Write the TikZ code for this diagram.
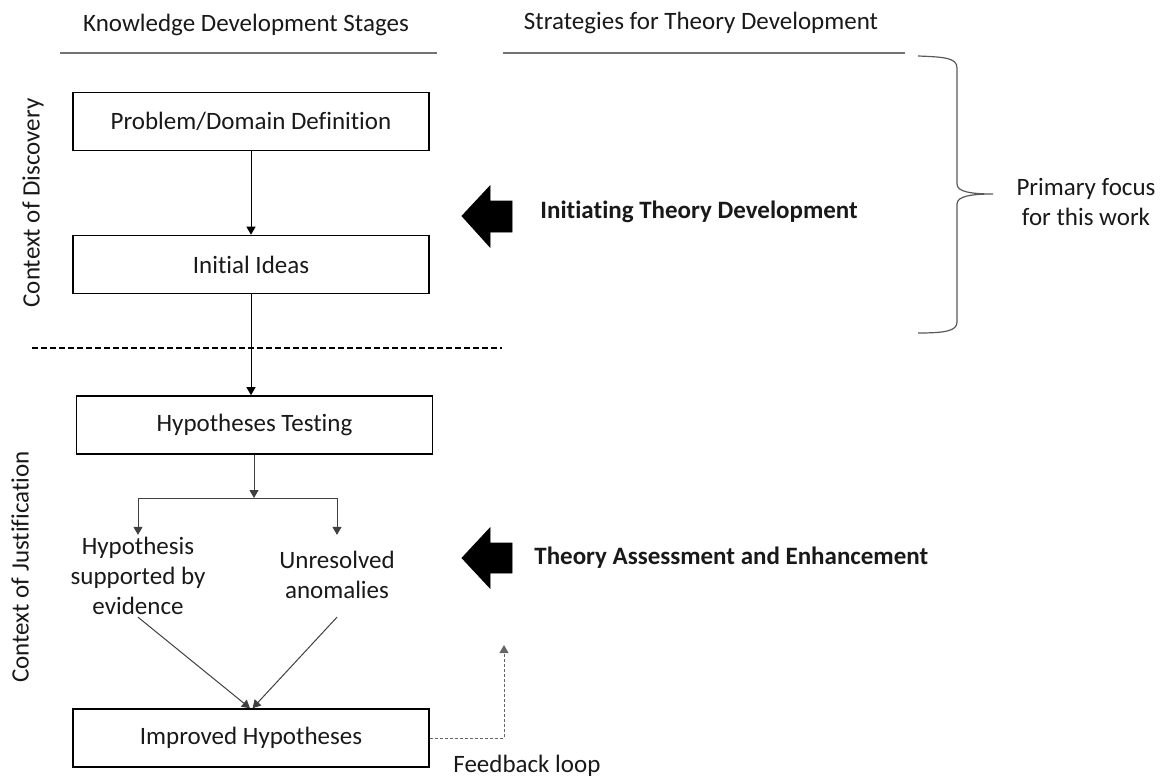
\documentclass[tikz,border=0pt]{standalone}
\usepackage{fontspec}
\setmainfont{Carlito}[Ligatures=NoCommon]
\usetikzlibrary{arrows.meta}
\begin{document}
\begin{tikzpicture}[x=0.5pt,y=-0.5pt,
  every node/.style={font=\fontsize{12.5pt}{15pt}\selectfont, text=black!90},
  stagebox/.style={draw=black, line width=0.8pt, minimum width=178pt, minimum height=29pt, inner sep=0pt},
  lbl/.style={align=center, inner sep=1pt},
  hdrline/.style={draw=black!55, line width=0.6pt},
  conn/.style={draw=black, line width=0.5pt, -{Triangle[length=4pt,width=4.5pt]}},
  gconn/.style={draw=black!75, line width=0.5pt},
  bigarrow/.style={fill=black, draw=black},
  fbline/.style={draw=black!60, line width=0.5pt, dash pattern=on 1.5pt off 1pt},
  sep/.style={draw=black, line width=1pt, dash pattern=on 3pt off 1.5pt}
]
\useasboundingbox (0,0) rectangle (1162,776);

% headers
\node (h1) at (246,25) {Knowledge Development Stages};
\node (h2) at (701,23) {Strategies for Theory Development};
\draw[hdrline] (60,53) -- (437,53);
\draw[hdrline] (503,53) -- (905,53);

% side labels
\node[rotate=90] (cd) at (33,203) {Context of Discovery};
\node[rotate=90] (cj) at (20,567) {Context of Justification};

% boxes
\node[stagebox] (b1) at (251,121.5) {Problem/Domain Definition};
\node[stagebox] (b2) at (251,264.5) {Initial Ideas};
\node[stagebox] (b3) at (254.5,425) {Hypotheses Testing};
\node[stagebox] (b4) at (251,738) {Improved Hypotheses};

\draw[conn] (b1.south) -- (b2.north);
\draw[conn] (b2.south) -- (b2.south |- b3.north);

% separator
\draw[sep] (32,348) -- (502,348);

% branch
\coordinate (br) at (254,498);
\coordinate (brL) at (138,498);
\coordinate (brR) at (337,498);
\node[lbl] (hs) at (138,576) {Hypothesis\\supported by\\evidence};
\node[lbl] (un) at (337,575) {Unresolved\\anomalies};

\draw[gconn, -{Triangle[length=4pt,width=4.5pt]}] (b3.south -| br) -- (br);
\draw[gconn] (brL) -- (brR);
\draw[gconn, -{Triangle[length=4pt,width=4.5pt]}] (brL) -- (brL |- hs.north);
\draw[gconn, -{Triangle[length=4pt,width=4.5pt]}] (brR) -- (brR |- hs.north);
\draw[gconn, -{Triangle[length=4pt,width=4.5pt]}] (hs.south) -- ([xshift=-0.5pt]b4.north);
\draw[gconn, -{Triangle[length=4pt,width=4.5pt]}] (hs.south -| un) -- ([xshift=0.8pt]b4.north);

% feedback loop
\coordinate (fbTop) at (504,645);
\draw[fbline, -{Triangle[length=4pt,width=4.5pt]}] (b4.east) -| (fbTop);
\node[anchor=base west, inner sep=0pt] (fbl) at (453,772) {Feedback loop};

% block arrows
\path[bigarrow] (462,216) -- (490,186) -- (490,201) -- (512,201) -- (512,232) -- (490,232) -- (490,247) -- cycle;
\path[bigarrow] (462,558) -- (490,528) -- (490,543) -- (512,543) -- (512,573) -- (490,573) -- (490,588) -- cycle;
\node[anchor=west, inner sep=0pt, font=\fontsize{12.5pt}{15pt}\selectfont\bfseries] (s1) at (540,212) {Initiating Theory Development};
\node[anchor=west, inner sep=0pt, font=\fontsize{12.5pt}{15pt}\selectfont\bfseries] (s2) at (534,558) {Theory Assessment and Enhancement};

% brace
\draw[black!65, line width=0.6pt] (918,56) .. controls (945,57) and (957,58) .. (957,68)
  -- (957,184) .. controls (957,192) and (972,194) .. (993,194)
  .. controls (972,194) and (957,196) .. (957,204)
  -- (957,322) .. controls (957,331) and (945,333) .. (918,333);
\node[lbl] (pf) at (1086,202) {Primary focus\\for this work};
\end{tikzpicture}
\end{document}
